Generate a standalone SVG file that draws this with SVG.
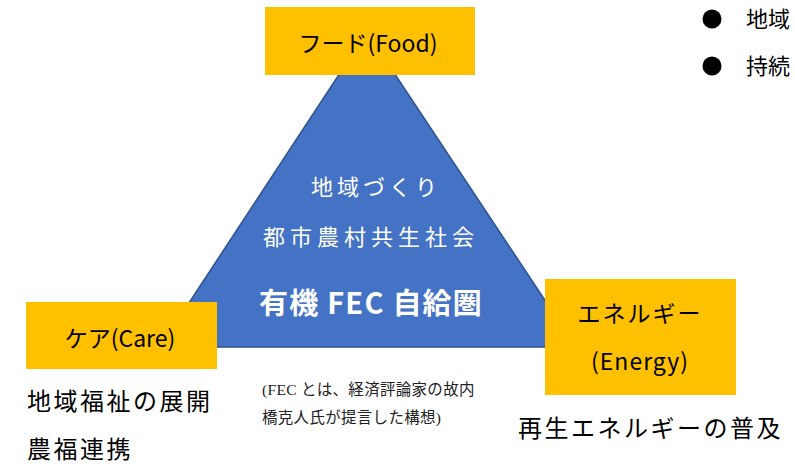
<svg xmlns="http://www.w3.org/2000/svg" width="795" height="464" viewBox="0 0 795 464">
<style>
.box{fill:#FFC000}
.lbl{font-family:"Noto Sans CJK JP","Noto Sans",sans-serif;font-size:23px;fill:#000}
.wt{font-family:"Noto Sans CJK JP",sans-serif;font-size:22px;fill:#fff;text-anchor:middle}
.blk{font-family:"Noto Sans CJK JP",sans-serif;font-size:24px;fill:#000}
.note{font-family:"Liberation Serif","Noto Sans CJK JP",serif;font-size:15.5px;fill:#222}
</style>
<rect width="795" height="464" fill="#fff"/>
<g id="triangle">
<polygon points="367,32 160,347 576,347" fill="#4472C4" stroke="#2F528F" stroke-width="1.5"/>
<text class="wt" x="376" y="195" style="letter-spacing:4px">地域づくり</text>
<text class="wt" x="371" y="245" style="letter-spacing:5px">都市農村共生社会</text>
<text x="371" y="314" font-family="'Noto Sans CJK JP',sans-serif" font-size="29" font-weight="bold" fill="#fff" text-anchor="middle" letter-spacing="1.2">有機 FEC 自給圏</text>
</g>
<g id="connectors"></g>
<g id="food">
<rect class="box" x="265" y="7" width="210" height="68"/>
<text class="lbl" x="368" y="52" text-anchor="middle">フード(Food)</text>
</g>
<g id="care">
<rect class="box" x="26" y="302" width="191" height="67"/>
<text class="lbl" x="120" y="347" text-anchor="middle">ケア(Care)</text>
<text class="blk" x="27" y="410" style="letter-spacing:2.5px">地域福祉の展開</text>
<text class="blk" x="27" y="458" style="letter-spacing:2.5px">農福連携</text>
</g>
<g id="energy">
<rect class="box" x="545" y="279" width="191" height="116"/>
<text class="lbl" x="640" y="322" text-anchor="middle" style="letter-spacing:2px">エネルギー</text>
<text class="lbl" x="640" y="370" text-anchor="middle" style="letter-spacing:1px">(Energy)</text>
<text class="blk" x="518" y="437" style="letter-spacing:2.5px">再生エネルギーの普及</text>
</g>
<g id="note">
<text class="note" x="262" y="395" style="letter-spacing:0.3px">(FEC とは、経済評論家の故内</text>
<text class="note" x="262" y="423" style="letter-spacing:0.3px">橋克人氏が提言した構想)</text>
</g>
<g id="bullets">
<circle cx="712" cy="19" r="9.5" fill="#000"/>
<text class="blk" x="746" y="27" style="font-size:22px">地域</text>
<circle cx="712" cy="66" r="9.5" fill="#000"/>
<text class="blk" x="746" y="74" style="font-size:22px">持続</text>
</g>
</svg>
